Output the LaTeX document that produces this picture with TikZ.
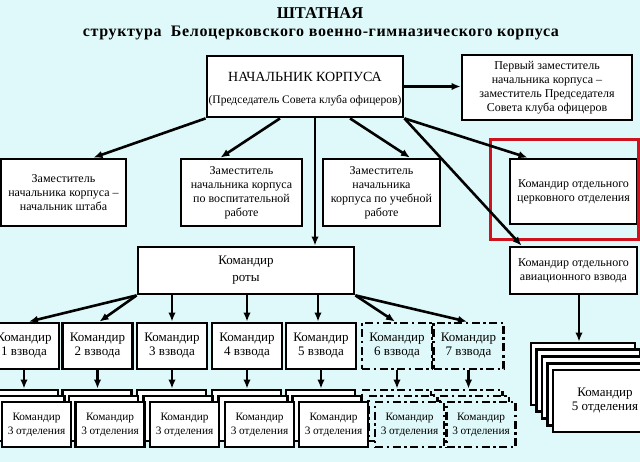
\documentclass[tikz,border=0pt]{standalone}
\usepackage{fontspec}
\setmainfont{Liberation Serif}
\usetikzlibrary{arrows.meta,calc}
\definecolor{bgc}{RGB}{223,249,250}
\definecolor{redc}{RGB}{205,20,30}
\begin{document}
\begin{tikzpicture}[x=1pt,y=-1pt,
  box/.style={draw=black,line width=2.8pt,fill=white,inner sep=0pt,align=center,font=\fontsize{12}{14}\selectfont},
  dbox/.style={draw=black,line width=2.8pt,fill=bgc,inner sep=0pt,align=center,dash pattern=on 8pt off 3.5pt on 2.5pt off 3.5pt},
  pbox/.style={minimum width=70pt,minimum height=46pt,font=\fontsize{13}{14}\selectfont},
  sbox/.style={minimum width=69pt,minimum height=45pt,font=\fontsize{11.3}{14}\selectfont},
  fbox/.style={box,minimum width=104pt,minimum height=62pt,font=\fontsize{13}{14}\selectfont},
  arr/.style={line width=2.6pt,-{Latex[length=9pt,width=7.5pt]}},
  ]
\fill[bgc] (0,0) rectangle (640,462);
\useasboundingbox (0,0) rectangle (640,462);
\clip (0,0) rectangle (640,462);

% titles
\node[font=\bfseries\fontsize{16.5}{18}\selectfont] (t1) at (320,13) {ШТАТНАЯ};
\node[font=\bfseries\fontsize{16}{18}\selectfont\addfontfeature{LetterSpace=4}] (t2) at (321,33) {структура\ \ Белоцерковского военно-гимназического корпуса};

% top level
\node[box,minimum width=196pt,minimum height=61pt] (main) at (305,86.5) {};
\node[font=\fontsize{14}{16}\selectfont] (mainT1) at (305,77) {НАЧАЛЬНИК КОРПУСА};
\node[font=\fontsize{11.5}{13}\selectfont] (mainT2) at (305,101) {(Председатель Совета клуба офицеров)};
\node[box,minimum width=170pt,minimum height=65pt] (first) at (547,87.5) {Первый заместитель\\начальника корпуса –\\заместитель Председателя\\Совета клуба офицеров};

% second level
\node[box,minimum width=125pt,minimum height=67pt] (A) at (63.5,192.5) {Заместитель\\начальника корпуса –\\начальник штаба};
\node[box,minimum width=121pt,minimum height=67pt] (B) at (241.5,192.5) {Заместитель\\начальника корпуса\\по воспитательной\\работе};
\node[box,minimum width=117pt,minimum height=67pt] (C) at (381.5,192.5) {Заместитель\\начальника\\корпуса по учебной\\работе};
\node[box,minimum width=127pt,minimum height=65pt] (church) at (573.5,191.5) {Командир отдельного\\церковного отделения};
\node[draw=redc,line width=3pt,minimum width=148pt,minimum height=100pt,inner sep=0pt] (redbox) at (564,190) {};

% third level
\node[box,minimum width=216pt,minimum height=47pt,font=\fontsize{13}{14}\selectfont] (rota) at (246,270.5) {Командир\\[3pt]роты};
\node[box,minimum width=127pt,minimum height=47pt] (avia) at (573.5,270.5) {Командир отдельного\\авиационного взвода};

% platoons
\foreach \i/\cx in {1/24,2/97.5,3/172,4/247,5/321} {
  \node[box,pbox] (p\i) at (\cx,346) {Командир\\\i\ взвода};
}
\foreach \i/\cx in {6/397,7/468.5} {
  \node[dbox,pbox] (p\i) at (\cx,346) {Командир\\\i\ взвода};
}
% squads, layer by layer
\foreach \i/\cx in {1/24,2/97.5,3/172,4/247,5/321} {
  \node[box,sbox] (sa\i) at ({\cx-0.5},412.5) {};
}
\foreach \i/\cx in {6/397,7/468.5} {
  \node[dbox,sbox] (sa\i) at ({\cx-0.5},412.5) {};
}
\foreach \i/\cx in {1/24,2/97.5,3/172,4/247,5/321} {
  \node[box,sbox] (sb\i) at ({\cx+6},418.5) {};
}
\foreach \i/\cx in {6/397,7/468.5} {
  \node[dbox,sbox] (sb\i) at ({\cx+6},418.5) {};
}
\foreach \i/\cx in {1/24,2/97.5,3/172,4/247,5/321} {
  \node[box,sbox] (sc\i) at ({\cx+12.5},424.5) {Командир\\3 отделения};
}
\foreach \i/\cx in {6/397,7/468.5} {
  \node[dbox,sbox] (sc\i) at ({\cx+12.5},424.5) {Командир\\3 отделения};
}
\foreach \i in {1,...,7} {
  \draw[arr] (p\i.south) -- (p\i.south |- sa\i.north);
}

% five stack
\foreach \k in {0,1,2,3} {
  \node[fbox] (f\k) at ({583+5.5*\k},{374+6.75*\k}) {};
}
\node[fbox] (f4) at (605,401) {Командир\\5 отделения};

% connectors
\draw[arr] (main.east) -- (main.east -| first.west);
\draw[arr] (main.south west) -- ([xshift=30pt]A.north);
\draw[arr] ([xshift=-25pt]main.south) -- ([xshift=-21pt]B.north);
\coordinate (mr) at ([xshift=10pt]main.south);
\draw[arr] (mr) -- (mr |- rota.north);
\draw[arr] ([xshift=45pt]main.south) -- ([xshift=28.5pt]C.north);
\draw[arr] (main.south east) -- ([xshift=-46pt]church.north);
\draw[arr] (main.south east) -- ([xshift=-52pt]avia.north);

\draw[arr] (rota.south west) -- ([xshift=5pt]p1.north);
\draw[arr] (rota.south west) -- ([xshift=2pt]p2.north);
\draw[arr] (p3.north |- rota.south) -- (p3.north);
\draw[arr] (p4.north |- rota.south) -- (p4.north);
\draw[arr] ([xshift=-3pt]p5.north |- rota.south) -- ([xshift=-3pt]p5.north);
\draw[arr] (rota.south east) -- ([xshift=-2pt]p6.north);
\draw[arr] (rota.south east) -- ([xshift=-1.5pt]p7.north);

\coordinate (avA) at ([xshift=5.5pt]avia.south);
\draw[arr] (avA) -- (avA |- f0.north);
\end{tikzpicture}
\end{document}
